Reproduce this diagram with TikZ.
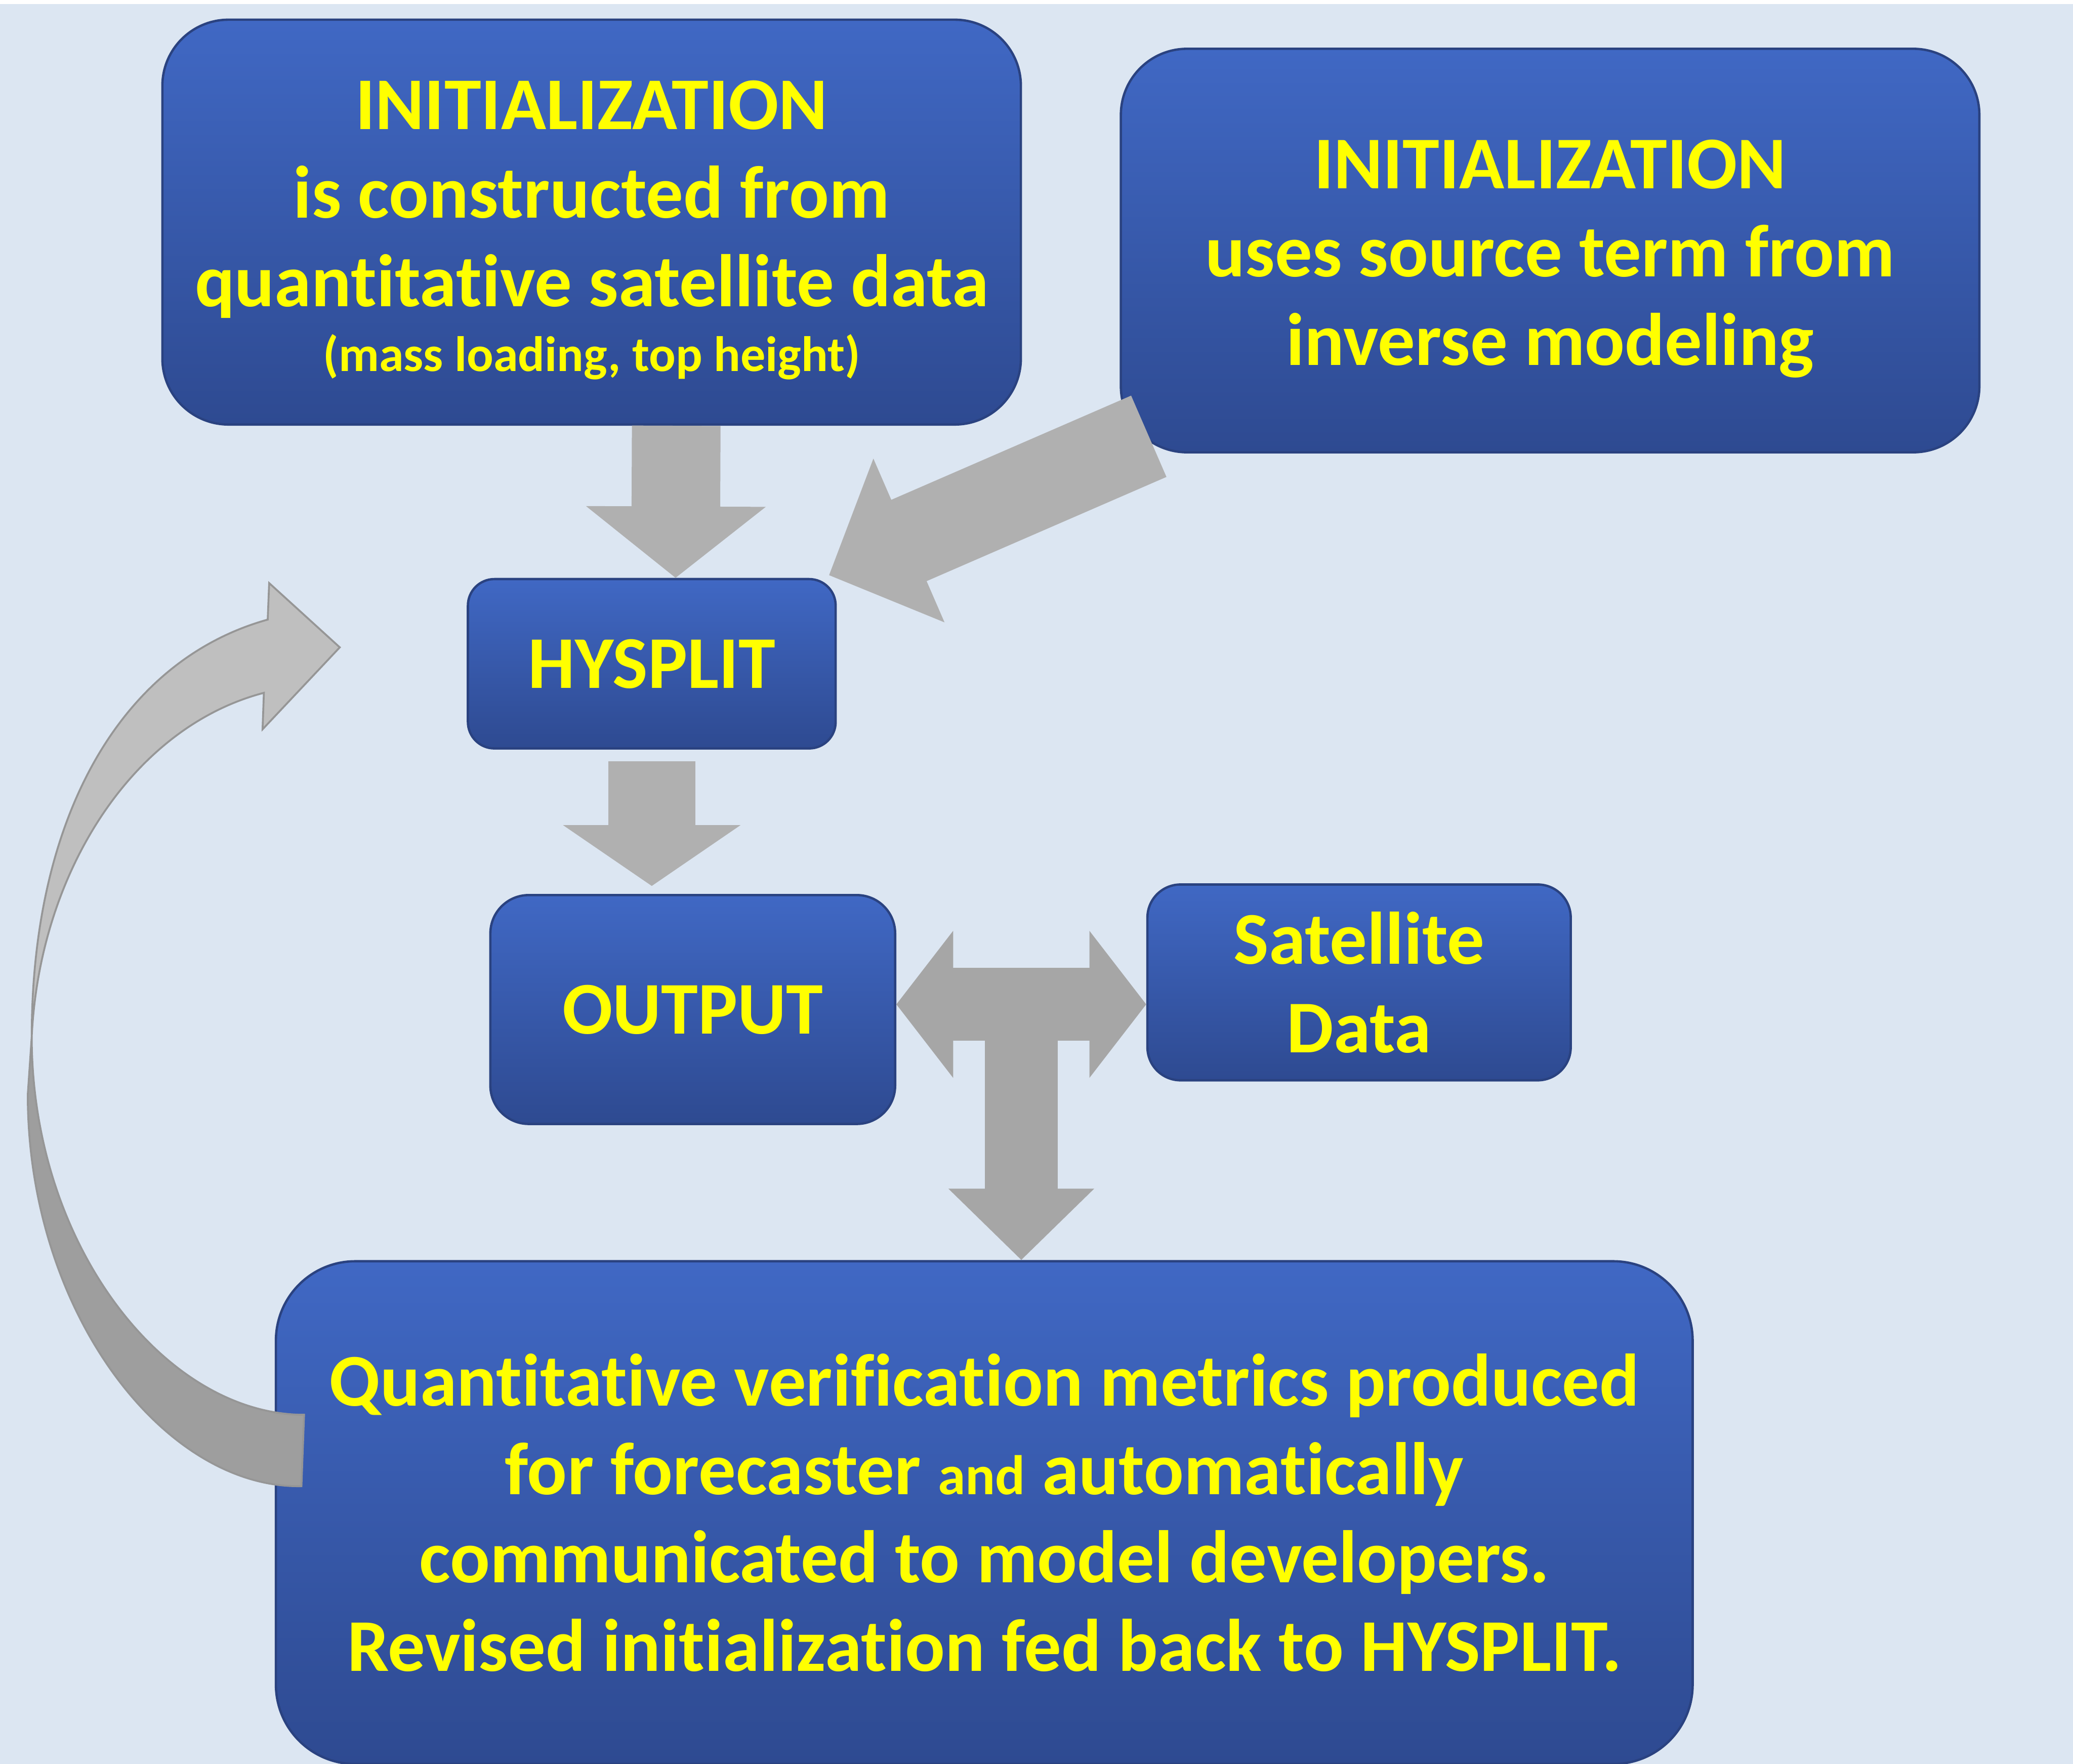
\documentclass[tikz,border=0pt]{standalone}
\usepackage{fontspec}
\setmainfont{Carlito}[Ligatures={NoCommon,NoRequired,NoContextual}]
\usetikzlibrary{arrows.meta,positioning,calc}

\definecolor{bgblue}{RGB}{220,230,242}
\definecolor{boxtop}{RGB}{64,104,196}
\definecolor{boxbot}{RGB}{46,74,145}
\definecolor{boxline}{RGB}{42,66,128}
\definecolor{txtyellow}{RGB}{255,255,0}
\definecolor{arrowgray}{RGB}{176,176,176}
\definecolor{teegray}{RGB}{166,166,166}
\definecolor{looplight}{RGB}{191,191,191}
\definecolor{loopdark}{RGB}{158,158,158}
\definecolor{loopline}{RGB}{150,150,150}

\newcommand{\bigtxt}{\fontsize{16}{19}\selectfont\bfseries}
\newcommand{\smalltxt}{\fontsize{10.7}{12}\selectfont\bfseries}
\newcommand{\topstrut}{\rule{0pt}{14pt}}

\begin{document}
\begin{tikzpicture}[
  x=0.01cm, y=-0.01cm,
  every node/.style={font=\bigtxt, text=txtyellow},
  box/.style={draw=boxline, line width=0.5pt, rounded corners=#1, top color=boxtop, bottom color=boxbot, align=center, inner sep=0pt},
  box/.default=0.5cm,
  fatarrow/.style={line width=0.67cm, draw=arrowgray},
  teearrow/.style={line width=0.55cm, draw=teegray}
]
\useasboundingbox (0,0) rectangle (1568,1334);
\fill[white] (0,0) rectangle (1568,3);
\fill[bgblue] (0,3) rectangle (1568,1334);

% boxes
\node[box, minimum width=6.49cm, minimum height=3.06cm] (init) at (447.5,168)
  {\topstrut INITIALIZATION\\ is constructed from\\ quantitative satellite data\\[-5pt] {\smalltxt (mass loading, top height)}};
\node[box, minimum width=6.49cm, minimum height=3.05cm] (src) at (1172.5,189.5)
  {\topstrut INITIALIZATION\\ uses source term from\\ inverse modeling};
\node[box=0.2cm, minimum width=2.78cm, minimum height=1.28cm] (hysplit) at (493,502) {HYSPLIT};
\node[box=0.29cm, minimum width=3.06cm, minimum height=1.73cm] (output) at (524,763.5) {OUTPUT};
\node[box=0.25cm, minimum width=3.2cm, minimum height=1.48cm] (sat) at (1028,743) {Satellite\\ Data};
\node[box=0.6cm, minimum width=10.71cm, minimum height=3.8cm] (verif) at (744.5,1144)
  {Quantitative verification metrics produced\\ for forecaster {\fontsize{12}{12}\selectfont and} automatically\\ communicated to model developers.\\ Revised initialization fed back to HYSPLIT.};

% block arrows
\draw[fatarrow, -{Triangle[length=0.54cm, width=1.33cm]}]
  ($(init.south)+(64,0)$) -- ($(hysplit.north)+(18,0)$);
\draw[fatarrow, line width=0.66cm, -{Triangle[length=0.46cm, width=1.32cm]}]
  ($(hysplit.south)+(0,9)$) -- ($(hysplit.south |- output.north)+(0,-6)$);
\draw[fatarrow, -{Triangle[length=0.66cm, width=1.31cm]}]
  ($(src.south west)+(22,-13)$) -- ($(hysplit.north east)+(-6,-2)$);

% T junction between output, satellite data and metrics
\coordinate (tee) at (772.5,759.6);
\draw[teearrow, {Triangle[length=0.43cm, width=1.09cm]}-{Triangle[length=0.43cm, width=1.09cm]}]
  (output.east |- tee) -- (sat.west |- tee);
\draw[teearrow, -{Triangle[length=0.54cm, width=1.07cm]}] (tee) -- (tee |- verif.north);

% feedback loop
\coordinate (looptip) at (257,489.6);
\filldraw[loopdark, draw=loopline, line width=0.4pt]
  (230,1070) .. controls (125,1070) and (24,942) .. (24,784)
  -- (21,828) .. controls (21,992) and (124,1126) .. (228,1124) -- cycle;
\filldraw[looplight, draw=loopline, line width=0.4pt]
  (24,784) .. controls (24,620) and (90,500) .. (202.5,468.6)
  -- (203.6,441) -- (looptip) -- (198.6,551.6) -- (199.6,524)
  .. controls (100,550) and (30,660) .. (24,784) -- cycle;
\end{tikzpicture}
\end{document}
